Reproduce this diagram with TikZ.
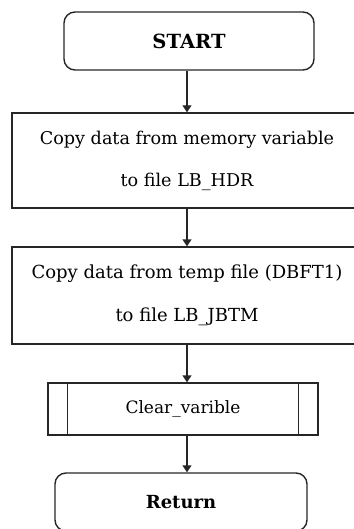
\documentclass[tikz,border=0pt]{standalone}
\usepackage{fontspec}
\setmainfont{DejaVu Serif}
\usetikzlibrary{arrows.meta}

\begin{document}
\begin{tikzpicture}[x=1pt,y=-1pt,line width=1.4pt,draw=black!85,
  term/.style={draw,rounded corners=11pt,minimum width=250pt,minimum height=58pt,
    font=\bfseries\fontsize{18}{22}\selectfont},
  proc/.style={draw,minimum width=350pt,align=center,inner sep=0pt},
  subproc/.style={draw,minimum width=270pt,minimum height=52pt,
    font=\fontsize{17}{20}\selectfont},
  flow/.style={-{Triangle[length=7pt,width=9pt]}}]
  \useasboundingbox (0,0) rectangle (353,529);
  % terminal boxes and process boxes, one column at x=187
  \node[term,font=\bfseries\fontsize{19.5}{24}\selectfont] (start) at (189,41) {START};
  \node[proc,minimum height=95pt,font=\fontsize{17.6}{42}\selectfont] (hdr) at (187,160.5)
    {Copy data from memory variable\\to file LB\_HDR};
  \node[proc,minimum height=97pt,font=\fontsize{18}{43}\selectfont] (jbtm) at (187,295.5)
    {Copy data from temp file (DBFT1)\\to file LB\_JBTM};
  \node[subproc] (clr) at (183,409) {Clear\_varible};
  \draw ([xshift=20pt]clr.north west) -- ([xshift=20pt]clr.south west);
  \draw ([xshift=-20pt]clr.north east) -- ([xshift=-20pt]clr.south east);
  \node[term,minimum width=252pt,font=\bfseries\fontsize{18}{20}\selectfont] (ret) at (181,502) {Return};
  % connectors
  \draw[flow] (start.south -| hdr.north) -- (hdr.north);
  \draw[flow] (hdr.south) -- (jbtm.north);
  \draw[flow] (jbtm.south) -- (jbtm.south |- clr.north);
  \draw[flow] (clr.south -| jbtm.south) -- (jbtm.south |- ret.north);
\end{tikzpicture}
\end{document}
